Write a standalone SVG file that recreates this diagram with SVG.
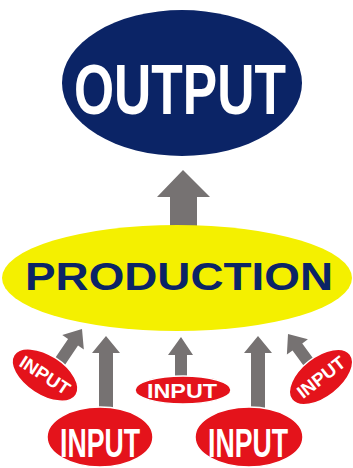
<svg xmlns="http://www.w3.org/2000/svg" width="353" height="468" viewBox="0 0 353 468">
<style>
.arrow{fill:#767272}
.inp{fill:#e4131b;stroke:#ffffff;stroke-width:1.5}
.it{fill:#ffffff;font-family:"Liberation Sans",Arial,sans-serif;font-weight:bold;text-anchor:middle}
</style>
<rect width="353" height="468" fill="#ffffff"/>
<g id="connectors">
<polygon class="arrow" points="183,170 210,197 197,197 197,228 170,228 170,197 157,197"/>
<polygon class="arrow" points="106,336 120,353 113,353 113,410 99,410 99,353 92,353"/>
<polygon class="arrow" points="181,337 193,355 187,355 187,380 175,380 175,355 168,355"/>
<polygon class="arrow" points="258,336 272,353 265,353 265,410 251,410 251,353 244,353"/>
<polygon class="arrow" transform="translate(82,329) rotate(34)" points="0,0 13,16 6,16 6,44 -6,44 -6,16 -13,16"/>
<polygon class="arrow" transform="translate(288,334) rotate(-36)" points="0,0 13,16 6,16 6,44 -6,44 -6,16 -13,16"/>
</g>
<g id="output">
<ellipse cx="182" cy="83" rx="120" ry="73" fill="#0b2466"/>
<text x="180" y="114" font-size="70" textLength="212" lengthAdjust="spacingAndGlyphs" class="it">OUTPUT</text>
</g>
<g id="production">
<ellipse cx="177" cy="278" rx="175" ry="53" fill="#f4f000"/>
<text x="179" y="290" font-size="39" textLength="308" lengthAdjust="spacingAndGlyphs" fill="#0b2466" font-family="Liberation Sans, Arial, sans-serif" font-weight="bold" text-anchor="middle">PRODUCTION</text>
</g>
<g id="input-left-small" transform="translate(45,375) rotate(33)">
<ellipse class="inp" cx="0" cy="0" rx="37" ry="20"/>
<text class="it" x="0" y="6.5" font-size="18" textLength="56" lengthAdjust="spacingAndGlyphs">INPUT</text>
</g>
<g id="input-right-small" transform="translate(321,377) rotate(-38)">
<ellipse class="inp" cx="0" cy="0" rx="37" ry="20"/>
<text class="it" x="0" y="6.5" font-size="18" textLength="56" lengthAdjust="spacingAndGlyphs">INPUT</text>
</g>
<g id="input-middle">
<ellipse class="inp" cx="183" cy="390" rx="48" ry="14"/>
<text class="it" x="182" y="398" font-size="20" textLength="70" lengthAdjust="spacingAndGlyphs">INPUT</text>
</g>
<g id="input-left-big">
<ellipse class="inp" cx="100" cy="437" rx="53" ry="30"/>
<text class="it" x="100" y="457" font-size="41" textLength="80" lengthAdjust="spacingAndGlyphs">INPUT</text>
</g>
<g id="input-right-big">
<ellipse class="inp" cx="249" cy="437" rx="54" ry="30"/>
<text class="it" x="248" y="457" font-size="41" textLength="80" lengthAdjust="spacingAndGlyphs">INPUT</text>
</g>
</svg>
